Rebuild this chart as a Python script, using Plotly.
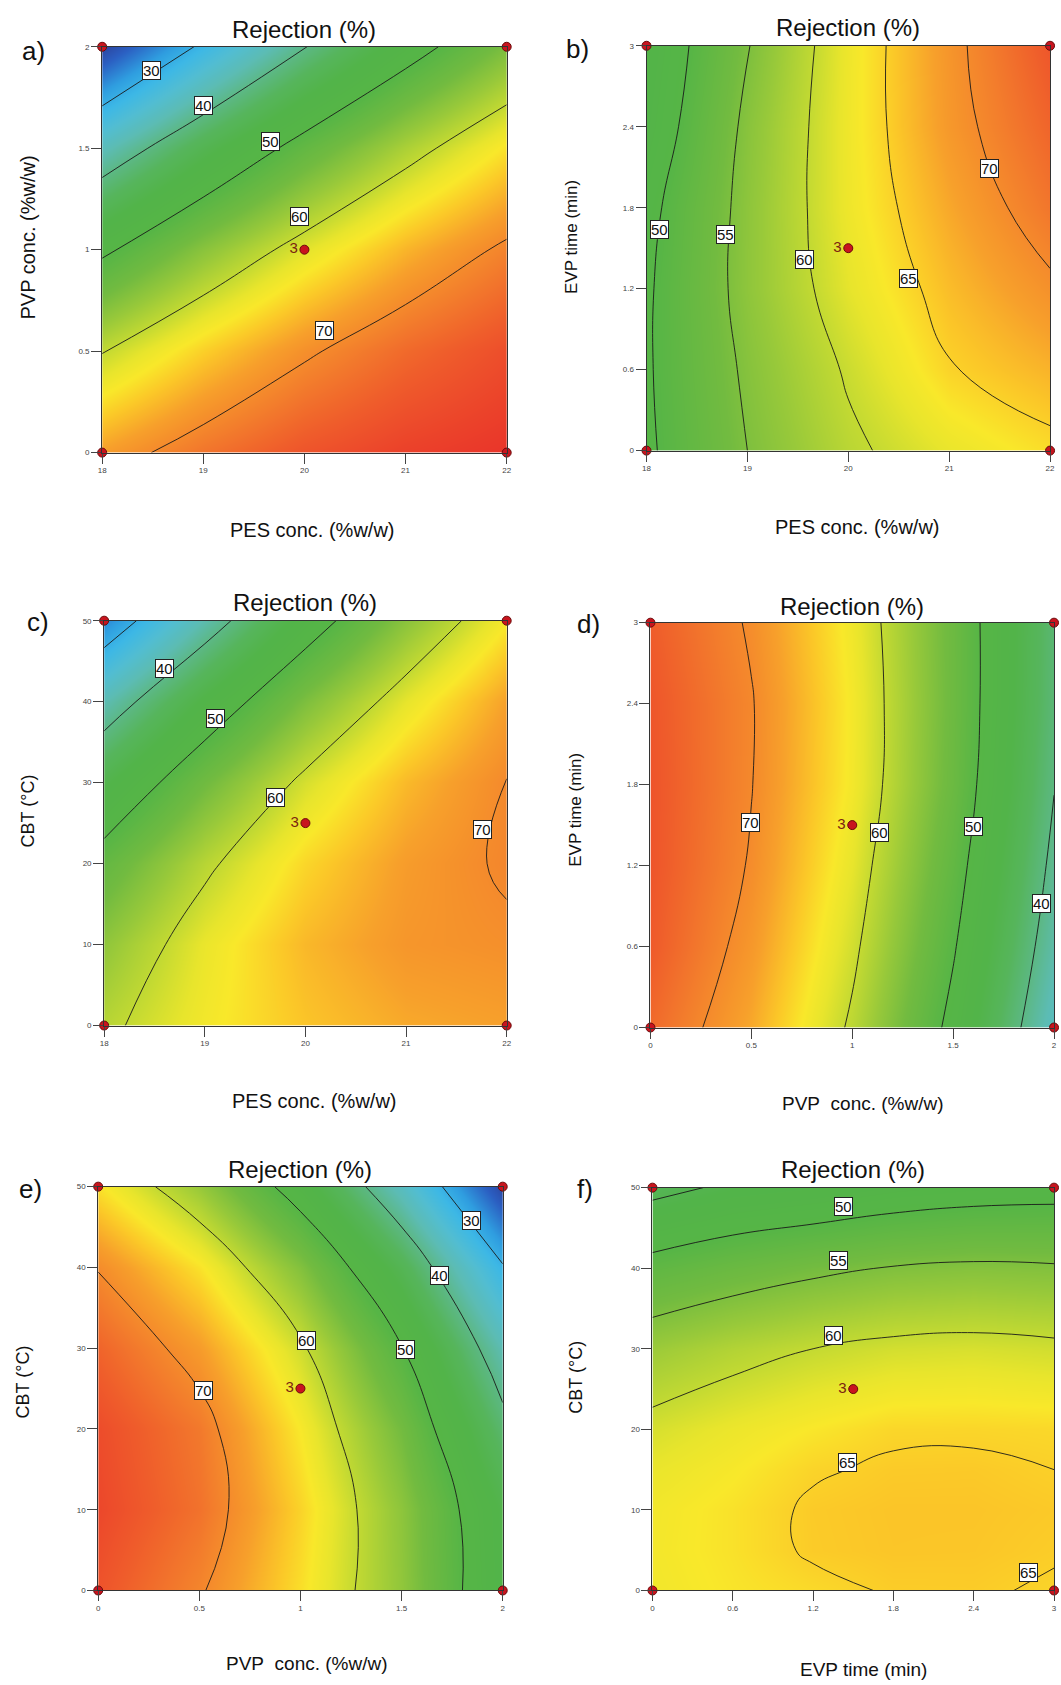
import plotly.graph_objects as go

W, H = 1061, 1685
FONT = "Liberation Sans, Arial, sans-serif"

# ---------------- data ----------------
pes = [18, 19, 20, 21, 22]
pvp = [0, 0.5, 1, 1.5, 2]
evp = [0, 0.6, 1.2, 1.8, 2.4, 3]
cbt = [0, 10, 20, 30, 40, 50]
cbt_f = [0, 5, 10, 15, 20, 30, 40, 50]

pes_ticks = ["18", "19", "20", "21", "22"]
pvp_ticks = ["0", "0.5", "1", "1.5", "2"]
evp_ticks = ["0", "0.6", "1.2", "1.8", "2.4", "3"]
cbt_ticks = ["0", "10", "20", "30", "40", "50"]

# a) PES x PVP  (rows = PVP, cols = PES)
z_a = [[68.2, 71.9, 74.8, 76.7, 77.8],
       [59.8, 65.0, 69.4, 72.8, 75.4],
       [49.1, 55.9, 61.7, 66.7, 70.7],
       [36.3, 44.5, 51.9, 58.3, 63.9],
       [21.2, 30.9, 39.8, 47.7, 54.8]]
# b) PES x EVP  (rows = EVP, cols = PES)
z_b = [[49.4, 55.0, 59.3, 62.2, 64.2],
       [49.6, 55.6, 60.4, 64.8, 66.8],
       [49.5, 56.3, 61.9, 66.2, 69.4],
       [48.9, 56.2, 62.6, 67.5, 71.8],
       [47.3, 55.8, 62.7, 68.7, 73.3],
       [46.5, 54.8, 62.6, 69.0, 74.6]]
# c) PES x CBT  (rows = CBT, cols = PES)
z_c = [[59.2, 63.0, 65.7, 67.4, 68.0],
       [56.4, 62.3, 66.5, 68.9, 69.5],
       [52.1, 59.2, 64.6, 68.35, 70.4],
       [45.3, 53.8, 61.0, 66.4, 70.1],
       [37.0, 46.5, 54.9, 62.0, 68.0],
       [26.5, 37.4, 47.4, 55.95, 63.3]]
# d) PVP x EVP  (rows = EVP, cols = PVP)
z_d = [[72.8, 67.4, 59.4, 48.8, 35.7],
       [74.2, 68.7, 60.8, 50.4, 37.6],
       [74.7, 69.7, 62.0, 51.8, 39.0],
       [74.8, 70.1, 63.0, 53.0, 40.15],
       [74.6, 70.2, 63.1, 53.3, 40.9],
       [74.0, 69.6, 62.7, 53.2, 41.2]]
# e) PVP x CBT  (rows = CBT, cols = PVP)
z_e = [[74.8, 70.4, 64.1, 56.5, 45.7],
       [76.0, 72.1, 64.8, 56.2, 45.3],
       [75.5, 71.5, 63.4, 54.1, 41.5],
       [73.3, 68.4, 60.7, 50.2, 36.9],
       [69.8, 63.9, 55.4, 44.2, 30.4],
       [63.9, 57.0, 47.6, 35.8, 21.4]]
# f) EVP x CBT  (rows = CBT (0,5,10,15,20,30,40,50), cols = EVP)
z_f = [[62.85, 63.7, 64.4, 65.2, 65.25, 64.75],
       [63.0, 63.9, 65.3, 65.65, 65.6, 65.2],
       [62.9, 63.9, 65.35, 65.7, 65.7, 65.4],
       [62.2, 63.3, 64.75, 65.35, 65.4, 65.0],
       [61.04, 62.4, 63.6, 64.6, 64.65, 64.5],
       [57.24, 58.8, 60.0, 60.85, 61.1, 60.71],
       [51.49, 53.0, 54.25, 55.2, 55.6, 55.38],
       [43.8, 45.7, 46.5, 47.6, 48.3, 48.6]]

# contour levels (start, end, step)
levels_a = (30, 70, 10)
levels_b = (50, 70, 5)
levels_c = (30, 70, 10)
levels_d = (40, 70, 10)
levels_e = (30, 70, 10)
levels_f = (45, 65, 5)

# contour labels: (text, x, y)
labels_a = [("30", 18.49, 1.884), ("40", 19.0, 1.709), ("50", 19.66, 1.535),
            ("60", 19.95, 1.166), ("70", 20.2, 0.601)]
labels_b = [("50", 18.13, 1.64), ("55", 18.78, 1.60), ("60", 19.57, 1.416),
            ("65", 20.6, 1.279), ("70", 21.4, 2.087)]
labels_c = [("40", 18.6, 44.1), ("50", 19.11, 37.9), ("60", 19.7, 28.2),
            ("70", 21.76, 24.2)]
labels_d = [("70", 0.497, 1.521), ("60", 1.133, 1.447), ("50", 1.60, 1.487),
            ("40", 1.937, 0.921)]
labels_e = [("30", 1.847, 45.8), ("40", 1.686, 39.0), ("60", 1.031, 31.0),
            ("50", 1.519, 29.8), ("70", 0.523, 24.7)]
labels_f = [("50", 1.425, 47.7), ("55", 1.39, 40.9), ("60", 1.35, 31.7),
            ("65", 1.46, 15.9), ("65", 2.81, 2.2)]

# design points: corners and centre (replicated 3 times)
corner_pes = [18, 22, 18, 22]
corner_pvp = [0, 0, 2, 2]
corner_evp = [0, 0, 3, 3]
corner_cbt = [0, 0, 50, 50]
corner_evp_x = [0, 3, 0, 3]
corner_pvp_x = [0, 2, 0, 2]
center = {"pes": 20, "pvp": 1, "evp": 1.5, "cbt": 25}
center_reps = "3"

# colour ramp (value -> colour)
ramp_vals = [20, 24, 28, 31, 34, 37, 40, 43, 46, 50, 54, 57, 60, 62, 63.5,
             65.5, 68, 71, 74, 78]
ramp_cols = ['#2b3990', '#2b5fc2', '#2f9ee0', '#3db8e6', '#52bdd2', '#5cbcb4',
             '#5cb884', '#56b55c', '#52b449', '#56b546', '#72bb40', '#98c93a',
             '#c4da32', '#e8e52c', '#f9e82a', '#fbc828', '#f7a02b', '#f37f2c',
             '#ef5c2b', '#e9332a']
zmin, zmax = ramp_vals[0], ramp_vals[-1]
colorscale = [[(v - zmin) / (zmax - zmin), c] for v, c in zip(ramp_vals, ramp_cols)]

PVP_X_TITLE = "PVP\u00a0 conc. (%w/w)"

# ---------------- layout geometry (pixels) ----------------
panels = [
    dict(letter="a)", x=pes, y=pvp, z=z_a, lev=levels_a, lab=labels_a,
         xtv=pes, xtt=pes_ticks, ytv=pvp, ytt=pvp_ticks,
         xtitle="PES conc. (%w/w)", ytitle="PVP conc. (%w/w)", xfs=20, yfs=20,
         rect=(99, 507, 43, 451), ty=26, xtxy=(311, 529), ytxy=(24, 235), lxy=(30, 47),
         cx=corner_pes, cy=corner_pvp, ctr=(center["pes"], center["pvp"])),
    dict(letter="b)", x=pes, y=evp, z=z_b, lev=levels_b, lab=labels_b,
         xtv=pes, xtt=pes_ticks, ytv=evp, ytt=evp_ticks,
         xtitle="PES conc. (%w/w)", ytitle="EVP time (min)", xfs=20, yfs=17,
         rect=(648, 1055, 42, 449), ty=24, xtxy=(860, 526), ytxy=(573, 234), lxy=(578, 45),
         cx=corner_pes, cy=corner_evp, ctr=(center["pes"], center["evp"])),
    dict(letter="c)", x=pes, y=cbt, z=z_c, lev=levels_c, lab=labels_c,
         xtv=pes, xtt=pes_ticks, ytv=cbt, ytt=cbt_ticks,
         xtitle="PES conc. (%w/w)", ytitle="CBT (°C)", xfs=20, yfs=18,
         rect=(101, 507, 620, 1027), ty=602, xtxy=(313, 1103), ytxy=(24, 811), lxy=(34, 621),
         cx=corner_pes, cy=corner_cbt, ctr=(center["pes"], center["cbt"])),
    dict(letter="d)", x=pvp, y=evp, z=z_d, lev=levels_d, lab=labels_d,
         xtv=pvp, xtt=pvp_ticks, ytv=evp, ytt=evp_ticks,
         xtitle=PVP_X_TITLE, ytitle="EVP time (min)", xfs=19, yfs=17,
         rect=(652, 1059, 622, 1029), ty=606, xtxy=(866, 1105), ytxy=(577, 810), lxy=(590, 623),
         cx=corner_pvp_x, cy=corner_evp, ctr=(center["pvp"], center["evp"])),
    dict(letter="e)", x=pvp, y=cbt, z=z_e, lev=levels_e, lab=labels_e,
         xtv=pvp, xtt=pvp_ticks, ytv=cbt, ytt=cbt_ticks,
         xtitle=PVP_X_TITLE, ytitle="CBT (°C)", xfs=19, yfs=18,
         rect=(95, 503, 1189, 1595), ty=1172, xtxy=(306, 1668), ytxy=(19, 1385), lxy=(27, 1191),
         cx=corner_pvp_x, cy=corner_cbt, ctr=(center["pvp"], center["cbt"])),
    dict(letter="f)", x=evp, y=cbt_f, z=z_f, lev=levels_f, lab=labels_f,
         xtv=evp, xtt=evp_ticks, ytv=cbt, ytt=cbt_ticks,
         xtitle="EVP time (min)", ytitle="CBT (°C)", xfs=19, yfs=18,
         rect=(654, 1059, 1190, 1595), ty=1172, xtxy=(867, 1674), ytxy=(577, 1381), lxy=(586, 1191),
         cx=corner_evp_x, cy=corner_cbt, ctr=(center["evp"], center["cbt"])),
]

fig = go.Figure()
annotations = []
layout_axes = {}

for i, p in enumerate(panels, start=1):
    xa = "x" if i == 1 else f"x{i}"
    ya = "y" if i == 1 else f"y{i}"
    x0, x1, yt, yb = p["rect"]
    xdom = [x0 / W, x1 / W]
    ydom = [1 - yb / H, 1 - yt / H]

    fig.add_trace(go.Heatmap(x=p["x"], y=p["y"], z=p["z"], zsmooth="best",
                             colorscale=colorscale, zmin=zmin, zmax=zmax,
                             showscale=False, hoverinfo="skip", xaxis=xa, yaxis=ya))
    s, e, st = p["lev"]
    fig.add_trace(go.Contour(x=p["x"], y=p["y"], z=p["z"],
                             contours=dict(coloring="none", start=s, end=e, size=st,
                                           showlabels=False),
                             line=dict(color="#1a1a1a", width=0.9, smoothing=1.3),
                             showscale=False, hoverinfo="skip", xaxis=xa, yaxis=ya))
    # design points
    fig.add_trace(go.Scatter(x=p["cx"], y=p["cy"], mode="markers",
                             marker=dict(size=9, color="#c8141e",
                                         line=dict(color="#6a0a0a", width=1)),
                             cliponaxis=False, showlegend=False, hoverinfo="skip",
                             xaxis=xa, yaxis=ya))
    fig.add_trace(go.Scatter(x=[p["ctr"][0]], y=[p["ctr"][1]], mode="markers+text",
                             text=[center_reps], textposition="middle left",
                             textfont=dict(size=15, color="#7b2410", family=FONT),
                             marker=dict(size=9, color="#c8141e",
                                         line=dict(color="#6a0a0a", width=1)),
                             cliponaxis=False, showlegend=False, hoverinfo="skip",
                             xaxis=xa, yaxis=ya))

    common = dict(showline=True, mirror=True, linecolor="#333333", linewidth=1,
                  ticks="outside", ticklen=10, tickwidth=1, tickcolor="#444444",
                  tickfont=dict(size=8, color="#444444", family=FONT),
                  showgrid=False, zeroline=False)
    layout_axes["xaxis" if i == 1 else f"xaxis{i}"] = dict(
        domain=xdom, range=[p["x"][0], p["x"][-1]], anchor=ya,
        tickmode="array", tickvals=p["xtv"], ticktext=p["xtt"], **common)
    layout_axes["yaxis" if i == 1 else f"yaxis{i}"] = dict(
        domain=ydom, range=[p["y"][0], p["y"][-1]], anchor=xa,
        tickmode="array", tickvals=p["ytv"], ticktext=p["ytt"], **common)

    # contour labels
    for txt, lx, ly in p["lab"]:
        annotations.append(dict(x=lx, y=ly, xref=xa, yref=ya, text=txt, showarrow=False,
                                font=dict(size=15, color="#111111", family=FONT),
                                bgcolor="white", bordercolor="#222222", borderwidth=1,
                                borderpad=0))
    cxp = (x0 + x1) / 2 / W
    annotations.append(dict(x=cxp, y=1 - p["ty"] / H, xref="paper", yref="paper",
                            text="Rejection (%)", showarrow=False,
                            font=dict(size=24, color="#111111", family=FONT),
                            xanchor="center", yanchor="middle"))
    annotations.append(dict(x=p["xtxy"][0] / W, y=1 - p["xtxy"][1] / H, xref="paper",
                            yref="paper", text=p["xtitle"], showarrow=False,
                            font=dict(size=p["xfs"], color="#111111", family=FONT),
                            xanchor="center", yanchor="middle"))
    annotations.append(dict(x=p["ytxy"][0] / W, y=1 - p["ytxy"][1] / H, xref="paper",
                            yref="paper", text=p["ytitle"], showarrow=False, textangle=-90,
                            font=dict(size=p["yfs"], color="#111111", family=FONT),
                            xanchor="center", yanchor="middle"))
    annotations.append(dict(x=p["lxy"][0] / W, y=1 - p["lxy"][1] / H, xref="paper",
                            yref="paper", text=p["letter"], showarrow=False,
                            font=dict(size=26, color="#111111", family=FONT),
                            xanchor="center", yanchor="middle"))

fig.update_layout(width=W, height=H, margin=dict(l=0, r=0, t=0, b=0),
                  paper_bgcolor="white", plot_bgcolor="white", showlegend=False,
                  annotations=annotations, **layout_axes)

fig.write_html("out.html")
